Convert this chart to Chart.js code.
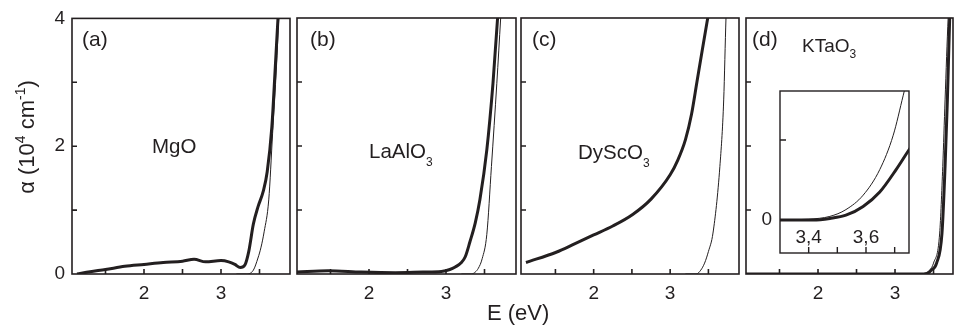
<!DOCTYPE html>
<html lang="en">
<head>
<meta charset="utf-8">
<title>Absorption edges</title>
<script src="https://cdn.jsdelivr.net/npm/chart.js@4.4.1/dist/chart.umd.min.js"></script>
<style>
  html, body { margin: 0; padding: 0; background: #fff; overflow: hidden; }
  #wrap { position: relative; width: 956px; height: 329px; }
  #wrap canvas { position: absolute; left: 0; top: 0; }
</style>
</head>
<body>
<div id="wrap">
  <canvas id="pa" width="956" height="329"></canvas>
  <canvas id="pb" width="956" height="329"></canvas>
  <canvas id="pc" width="956" height="329"></canvas>
  <canvas id="pd" width="956" height="329"></canvas>
  <canvas id="inset" width="956" height="329"></canvas>
</div>
<script>
// tick values
const xTicks = [2, 3];
const xMinor = [1.5, 2, 2.5, 3, 3.5];
const yTicks = [0, 2, 4];
const yMinor = [1, 2, 3];
const insetXTicks = [3.4, 3.6];
const insetXMarks = [3.4, 3.5, 3.6, 3.7];
const insetYTicks = [0, 1];

// (a) MgO
const mgoThickE = [1.13, 1.3, 1.5, 1.75, 2.0, 2.25, 2.5, 2.65, 2.8, 3.0, 3.1, 3.18, 3.25, 3.31, 3.36, 3.42, 3.48, 3.55, 3.6, 3.66, 3.705, 3.74, 3.77];
const mgoThickA = [0, 0.035, 0.07, 0.12, 0.15, 0.18, 0.2, 0.23, 0.19, 0.21, 0.19, 0.15, 0.1, 0.14, 0.35, 0.78, 1.05, 1.3, 1.6, 2.3, 3.24, 4.0, 4.6];
const mgoThinE = [3.2, 3.33, 3.42, 3.48, 3.52, 3.56, 3.62, 3.67, 3.72, 3.75, 3.78];
const mgoThinA = [0, 0, 0.06, 0.25, 0.42, 0.66, 1.16, 2.2, 3.24, 4.0, 4.7];

// (b) LaAlO3
const laoThickE = [1.065, 1.47, 1.9, 2.34, 2.7, 2.94, 3.05, 3.12, 3.2, 3.25, 3.31, 3.38, 3.44, 3.53, 3.61, 3.67, 3.7];
const laoThickA = [0.03, 0.05, 0.03, 0.02, 0.03, 0.04, 0.07, 0.11, 0.18, 0.27, 0.5, 0.8, 1.16, 1.94, 2.98, 4.0, 4.6];
const laoThinE = [3.2, 3.33, 3.38, 3.42, 3.47, 3.53, 3.59, 3.66, 3.71, 3.74];
const laoThinA = [0, 0, 0.03, 0.09, 0.24, 0.62, 1.68, 2.98, 4.0, 4.6];

// (c) DyScO3
const dsoThickE = [1.115, 1.51, 1.75, 2.0, 2.25, 2.51, 2.75, 3.0, 3.1, 3.2, 3.28, 3.35, 3.42, 3.48, 3.52];
const dsoThickA = [0.18, 0.34, 0.47, 0.61, 0.75, 0.93, 1.17, 1.55, 1.78, 2.1, 2.5, 3.0, 3.5, 3.92, 4.2];
const dsoThinE = [3.2, 3.34, 3.4, 3.45, 3.5, 3.56, 3.65, 3.7, 3.73, 3.76];
const dsoThinA = [0, 0, 0.06, 0.17, 0.35, 0.64, 1.68, 2.72, 4.0, 4.8];

// (d) KTaO3
const ktoThickE = [1.065, 3.0, 3.36, 3.42, 3.47, 3.54, 3.61, 3.65, 3.68, 3.71, 3.73];
const ktoThickA = [0, 0, 0, 0.01, 0.06, 0.17, 0.64, 1.68, 2.72, 4.0, 4.6];
const ktoThinE = [3.0, 3.33, 3.4, 3.45, 3.5, 3.58, 3.62, 3.65, 3.69, 3.72];
const ktoThinA = [0, 0, 0.02, 0.06, 0.17, 0.64, 1.68, 2.72, 4.0, 4.6];

// (d) inset
const insetThickE = [3.3, 3.416, 3.474, 3.53, 3.59, 3.648, 3.705, 3.745, 3.76];
const insetThickA = [0, 0, 0.02, 0.06, 0.17, 0.35, 0.63, 0.85, 0.93];
const insetThinE = [3.3, 3.4, 3.474, 3.53, 3.59, 3.648, 3.695, 3.73, 3.76];
const insetThinA = [0, 0.01, 0.045, 0.13, 0.31, 0.63, 1.06, 1.56, 2.0];

const ink = '#231f20';
const family = '"Liberation Sans", Arial, Helvetica, sans-serif';
Chart.defaults.font.family = family;
Chart.defaults.color = ink;

const pts = (xs, ys) => xs.map((x, i) => ({ x: x, y: ys[i] }));

// box + inward tick marks
const framePlugin = {
  id: 'frame',
  afterDatasetsDraw(chart, args, o) {
    const { ctx, chartArea: a, scales: { x, y } } = chart;
    const bottom = o.toAxis ? x.bottom : a.bottom;
    ctx.save();
    ctx.strokeStyle = ink;
    ctx.lineWidth = o.width;
    ctx.strokeRect(a.left, a.top, a.right - a.left, bottom - a.top);
    ctx.beginPath();
    o.xMarks.forEach(v => {
      const px = x.getPixelForValue(v);
      ctx.moveTo(px, bottom);
      ctx.lineTo(px, bottom - o.len);
    });
    o.yMarks.forEach(v => {
      const py = y.getPixelForValue(v);
      ctx.moveTo(a.left, py);
      ctx.lineTo(a.left + o.len, py);
    });
    ctx.stroke();
    ctx.restore();
  }
};

// text annotations, made of parts (for sub/superscripts)
const notesPlugin = {
  id: 'notes',
  afterDraw(chart, args, o) {
    const ctx = chart.ctx;
    (o.items || []).forEach(it => {
      ctx.save();
      ctx.translate(it.x, it.y);
      if (it.rotate) ctx.rotate(-Math.PI / 2);
      ctx.fillStyle = ink;
      ctx.textBaseline = 'alphabetic';
      let w = 0;
      it.parts.forEach(p => { ctx.font = p.size + 'px ' + family; w += ctx.measureText(p.t).width; });
      let cx = it.center ? -w / 2 : 0;
      it.parts.forEach(p => {
        ctx.font = p.size + 'px ' + family;
        ctx.fillText(p.t, cx, -(p.rise || 0));
        cx += ctx.measureText(p.t).width;
      });
      ctx.restore();
    });
  }
};

function makePanel(id, cfg) {
  const datasets = cfg.series.map(s => ({
    data: pts(s.xs, s.ys),
    showLine: true,
    borderColor: ink,
    borderWidth: s.w,
    pointRadius: 0,
    fill: false,
    cubicInterpolationMode: 'monotone'
  }));
  return new Chart(document.getElementById(id), {
    type: 'scatter',
    data: { datasets: datasets },
    options: {
      responsive: false,
      animation: false,
      events: [],
      devicePixelRatio: 1,
      layout: { padding: cfg.pad },
      plugins: {
        legend: { display: false },
        tooltip: { enabled: false },
        frame: cfg.frame,
        notes: { items: cfg.notes }
      },
      scales: {
        x: {
          type: 'linear',
          position: 'bottom',
          min: cfg.xRange[0],
          max: cfg.xRange[1],
          afterBuildTicks: s => { s.ticks = cfg.xTicks.map(v => ({ value: v })); },
          afterFit: s => { s.height = cfg.xH; },
          grid: { display: false, drawTicks: false },
          border: { display: false },
          ticks: { padding: cfg.xPad, font: { size: 19 }, color: ink, maxRotation: 0, autoSkip: false, callback: cfg.xFmt }
        },
        y: {
          type: 'linear',
          min: cfg.yRange[0],
          max: cfg.yRange[1],
          display: cfg.yLabels,
          afterBuildTicks: s => { s.ticks = cfg.yTicks.map(v => ({ value: v })); },
          afterFit: s => { s.width = cfg.yLabels ? cfg.yW : 0; },
          grid: { display: false, drawTicks: false },
          border: { display: false },
          ticks: { padding: cfg.yPad || 0, font: { size: 19 }, color: ink, autoSkip: false, callback: cfg.yFmt }
        }
      }
    },
    plugins: [framePlugin, notesPlugin]
  });
}

const plain = v => String(v);
const mainFrame = { width: 1.6, len: 5, xMarks: xMinor, yMarks: yMinor };

makePanel('pa', {
  pad: { left: 0, top: 18, right: 956 - 290, bottom: 0 },
  xRange: [1.065, 3.896], yRange: [0, 4],
  xTicks: xTicks, yTicks: yTicks, xH: 55, xPad: 8, yW: 72, yPad: 7,
  yLabels: true, xFmt: plain, yFmt: plain,
  frame: mainFrame,
  series: [{ xs: mgoThinE, ys: mgoThinA, w: 1 }, { xs: mgoThickE, ys: mgoThickA, w: 3 }],
  notes: [
    { x: 82, y: 46, parts: [{ t: '(a)', size: 21 }] },
    { x: 152, y: 153, parts: [{ t: 'MgO', size: 20.5 }] },
    { x: 34, y: 137, rotate: true, center: true, parts: [
      { t: 'α (10', size: 22 }, { t: '4', size: 14, rise: 9 }, { t: ' cm', size: 22 },
      { t: '-1', size: 14, rise: 9 }, { t: ')', size: 22 }] }
  ]
});

makePanel('pb', {
  pad: { left: 297, top: 18, right: 956 - 516, bottom: 0 },
  xRange: [1.065, 3.909], yRange: [0, 4],
  xTicks: xTicks, yTicks: yTicks, xH: 55, xPad: 8,
  yLabels: false, xFmt: plain, yFmt: plain,
  frame: mainFrame,
  series: [{ xs: laoThinE, ys: laoThinA, w: 1 }, { xs: laoThickE, ys: laoThickA, w: 3 }],
  notes: [
    { x: 310, y: 46, parts: [{ t: '(b)', size: 21 }] },
    { x: 369, y: 158, parts: [{ t: 'LaAlO', size: 20.5 }, { t: '3', size: 12, rise: -8 }] },
    { x: 487, y: 320, parts: [{ t: 'E (eV)', size: 22 }] }
  ]
});

makePanel('pc', {
  pad: { left: 521, top: 18, right: 956 - 739, bottom: 0 },
  xRange: [1.05, 3.9], yRange: [0, 4],
  xTicks: xTicks, yTicks: yTicks, xH: 55, xPad: 8,
  yLabels: false, xFmt: plain, yFmt: plain,
  frame: mainFrame,
  series: [{ xs: dsoThinE, ys: dsoThinA, w: 1 }, { xs: dsoThickE, ys: dsoThickA, w: 3 }],
  notes: [
    { x: 532, y: 46, parts: [{ t: '(c)', size: 21 }] },
    { x: 578, y: 159, parts: [{ t: 'DyScO', size: 20.5 }, { t: '3', size: 12, rise: -8 }] }
  ]
});

makePanel('pd', {
  pad: { left: 746, top: 18, right: 956 - 953, bottom: 0 },
  xRange: [1.065, 3.753], yRange: [0, 4],
  xTicks: xTicks, yTicks: yTicks, xH: 55, xPad: 8,
  yLabels: false, xFmt: plain, yFmt: plain,
  frame: mainFrame,
  series: [{ xs: ktoThinE, ys: ktoThinA, w: 1 }, { xs: ktoThickE, ys: ktoThickA, w: 3 }],
  notes: [
    { x: 752, y: 46, parts: [{ t: '(d)', size: 21 }] },
    { x: 802, y: 52, parts: [{ t: 'KTaO', size: 19 }, { t: '3', size: 12, rise: -6 }] }
  ]
});

makePanel('inset', {
  pad: { left: 740, top: 91, right: 956 - 909, bottom: 329 - 253 },
  xRange: [3.3, 3.75], yRange: [-0.05, 1.6125],
  xTicks: insetXTicks, yTicks: insetYTicks, xH: 29, xPad: 2, yW: 40, yPad: 8,
  yLabels: true,
  xFmt: v => v.toFixed(1).replace('.', ','),
  yFmt: v => (v === 0 ? '0' : ''),
  frame: { width: 1.4, len: 6, toAxis: true, xMarks: insetXMarks, yMarks: insetYTicks },
  series: [{ xs: insetThinE, ys: insetThinA, w: 1 }, { xs: insetThickE, ys: insetThickA, w: 3 }],
  notes: []
});
</script>
</body>
</html>
